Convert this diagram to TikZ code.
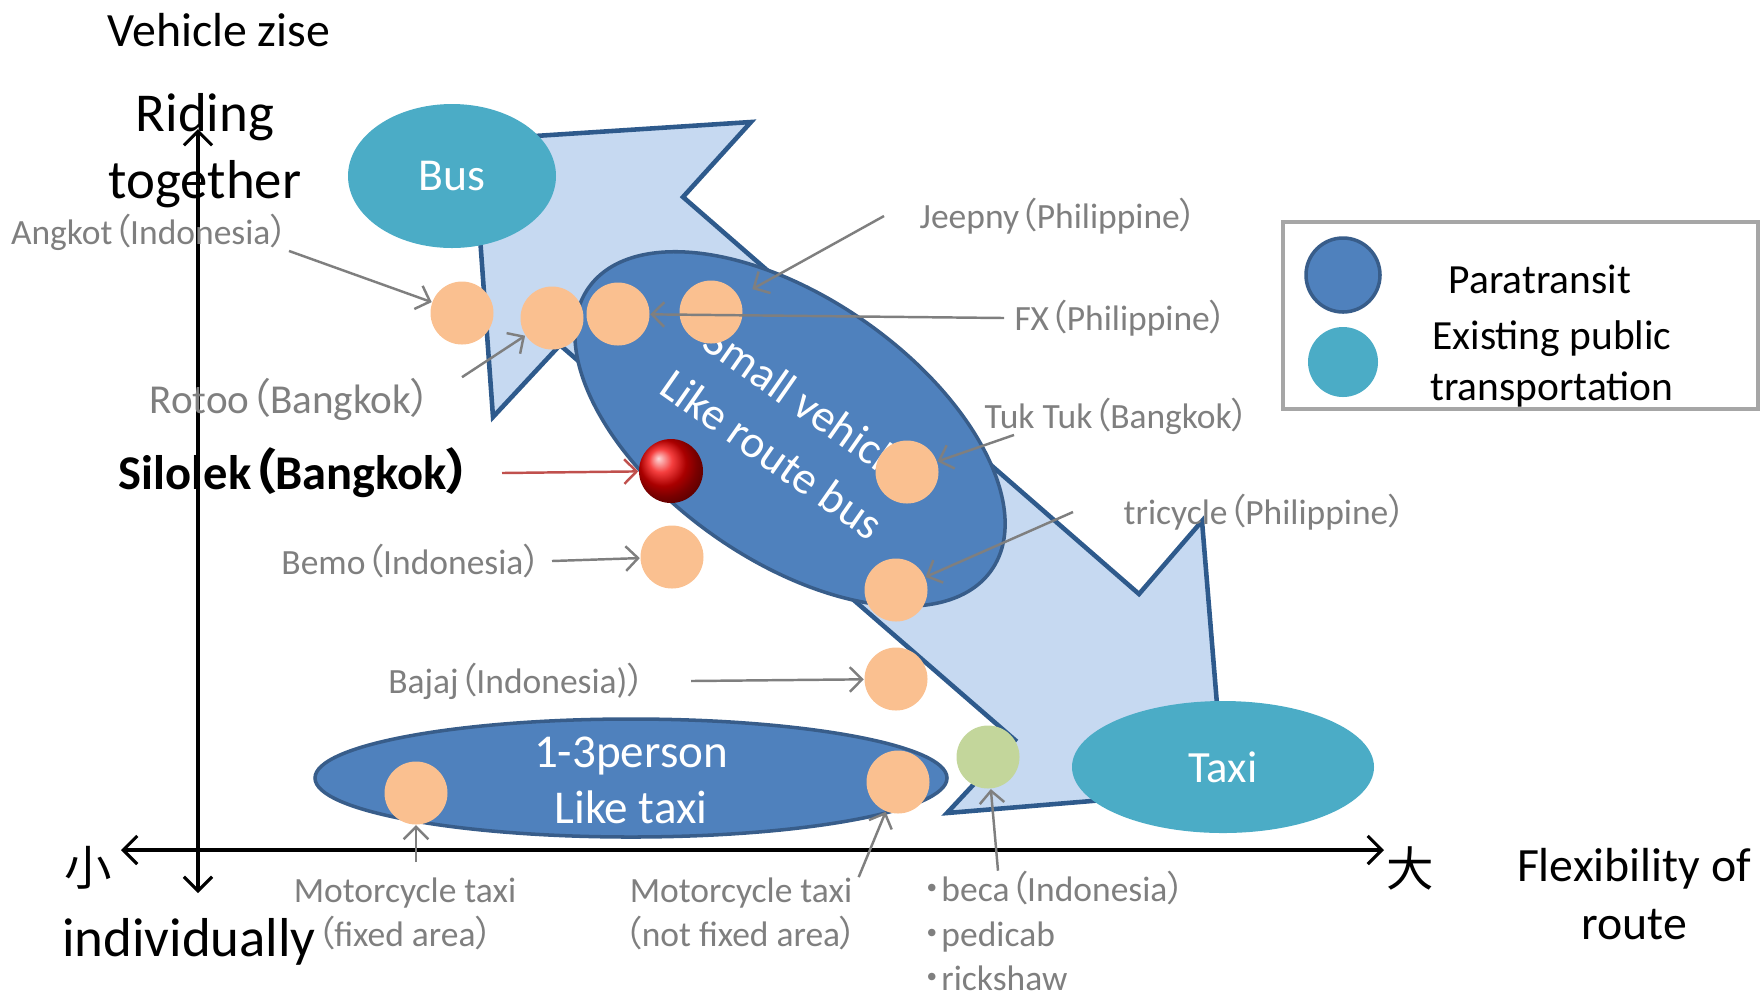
\documentclass[tikz,border=0pt]{standalone}
\usepackage{fontspec}
\setmainfont{Carlito}
\newfontfamily\cjk[RawFeature={+palt}]{Noto Sans CJK JP}
\usetikzlibrary{arrows.meta,calc,shapes.geometric}
\definecolor{arrowfill}{HTML}{C6D9F1}
\definecolor{arrowline}{HTML}{2E5A8C}
\definecolor{parablue}{HTML}{4F81BD}
\definecolor{paraline}{HTML}{385D8A}
\definecolor{busteal}{HTML}{4BACC6}
\definecolor{dotorange}{HTML}{FAC090}
\definecolor{dotgreen}{HTML}{C3D69B}
\definecolor{labelgray}{HTML}{7F7F7F}
\definecolor{pointred}{HTML}{C0504D}
\definecolor{legendgray}{HTML}{A6A6A6}
\newcommand{\lp}{{\cjk （}}
\newcommand{\rp}{{\cjk ）}}
\newcommand{\mdot}{{\cjk ・}}

\begin{document}
\begin{tikzpicture}[
  lbl/.style={text=labelgray,font=\fontsize{10.1}{12.6}\selectfont,inner sep=0pt},
  ptr/.style={labelgray,line width=0.7pt,-{Straight Barb[length=3.5pt,width=7pt]}},
  redptr/.style={pointred,line width=0.7pt,-{Straight Barb[length=3.5pt,width=7pt]}},
  vehdot/.style={circle,fill=dotorange,inner sep=0pt,minimum size=0.63cm},
  axisline/.style={black,line width=0.9pt,{Straight Barb[length=4pt,width=8pt]}-{Straight Barb[length=4pt,width=8pt]}},
  paraoval/.style={ellipse,draw=paraline,fill=parablue,line width=1pt,inner sep=0pt},
  publicoval/.style={ellipse,fill=busteal,text=white,inner sep=0pt}
]
\useasboundingbox (0,0) rectangle (17.61,-9.95);
\draw[arrowline,fill=arrowfill,line width=1.3pt,line join=miter] (4.73,-1.40) -- (7.51,-1.22) -- (6.83,-1.97) -- (11.39,-5.94) -- (12.02,-5.21) -- (12.24,-7.90) -- (9.47,-8.13) -- (10.15,-7.40) -- (5.60,-3.45) -- (4.93,-4.17) -- cycle;
\node[publicoval,minimum width=2.08cm,minimum height=1.44cm,font=\fontsize{13}{15}\selectfont] (bus) at (4.52,-1.76) {Bus};
\node[publicoval,minimum width=3.02cm,minimum height=1.32cm,font=\fontsize{12.7}{15}\selectfont] (taxi) at (12.23,-7.67) {Taxi};
\node[paraoval,minimum width=4.92cm,minimum height=2.62cm,rotate=-35,text=white,align=center,font=\fontsize{13}{17.5}\selectfont] (smallveh) at (7.90,-4.29) {Small vehicle\\Like route bus};
\node[paraoval,minimum width=6.32cm,minimum height=1.18cm] (onethree) at (6.31,-7.78) {};
\node[text=white,align=center,font=\fontsize{13.4}{16}\selectfont] (onethreetxt) at (6.31,-7.80) {1-3person\\Like taxi};
\node[font=\fontsize{13.6}{16}\selectfont] (vsize) at (2.19,-0.30) {Vehicle zise};
\node[font=\fontsize{15.6}{19}\selectfont,align=center] (riding) at (2.05,-1.51) {Riding\\together};
\node[font=\fontsize{15.6}{18}\selectfont] (indiv) at (1.89,-9.42) {individually};
\node[font=\fontsize{13.6}{16.5}\selectfont,align=center] (flex) at (16.34,-8.94) {Flexibility of\\route};
\node[font={\cjk\fontsize{13.5}{15}\selectfont}] (smallend) at (0.88,-8.68) {小};
\node[font={\cjk\fontsize{13.5}{15}\selectfont}] (largeend) at (14.10,-8.68) {大};
\coordinate (ytop) at (1.98,-1.29);
\coordinate (ybot) at (1.98,-8.93);
\coordinate (xleft) at (1.21,-8.50);
\coordinate (xright) at (13.84,-8.50);
\draw[axisline] (ybot) -- (ytop);
\draw[axisline] (xleft) -- (xright);
\node[vehdot] (angkotdot) at (4.62,-3.13) {};
\node[vehdot] (rotoodot) at (5.52,-3.18) {};
\node[vehdot] (fxdot) at (6.18,-3.14) {};
\node[vehdot] (jeepnydot) at (7.11,-3.12) {};
\node[vehdot] (bemodot) at (6.72,-5.57) {};
\node[vehdot] (tuktukdot) at (9.07,-4.72) {};
\node[vehdot] (tricycledot) at (8.96,-5.90) {};
\node[vehdot] (bajajdot) at (8.96,-6.79) {};
\node[vehdot] (mnotfixeddot) at (8.98,-7.82) {};
\node[vehdot] (mfixeddot) at (4.16,-7.93) {};
\node[vehdot,fill=dotgreen] (becadot) at (9.88,-7.57) {};
\node[circle,shading=ball,ball color=red!95!black,minimum size=0.64cm,inner sep=0pt] (silolekdot) at (6.71,-4.71) {};
\node[lbl,anchor=east] (angkot) at (2.89,-2.32) {Angkot\lp Indonesia\rp};
\node[lbl,anchor=east,font=\fontsize{11.7}{14}\selectfont] (rotoo) at (4.32,-3.99) {Rotoo\lp Bangkok\rp};
\node[anchor=east,inner sep=0pt,font=\fontsize{13.8}{16}\selectfont\bfseries] (silolek) at (4.72,-4.73) {Silolek\lp Bangkok\rp};
\node[lbl,anchor=east] (bemo) at (5.42,-5.61) {Bemo\lp Indonesia\rp};
\node[lbl,anchor=east] (bajaj) at (6.46,-6.81) {Bajaj\lp Indonesia)\rp};
\node[lbl,anchor=west] (jeepny) at (9.19,-2.16) {Jeepny\lp Philippine\rp};
\node[lbl,anchor=west] (fx) at (10.14,-3.18) {FX\lp Philippine\rp};
\node[lbl,anchor=west] (tuktuk) at (9.84,-4.16) {Tuk Tuk\lp Bangkok\rp};
\node[lbl,anchor=west] (tricycle) at (11.23,-5.12) {tricycle\lp Philippine\rp};
\node[lbl,align=center] (mfixed) at (4.05,-9.14) {Motorcycle taxi\\\lp fixed area\rp};
\node[lbl,align=center] (mnotfixed) at (7.41,-9.14) {Motorcycle taxi\\\lp not fixed area\rp};
\node[lbl,anchor=west,align=left] (beca) at (9.23,-9.31) {\mdot beca\lp Indonesia\rp\\\mdot pedicab\\\mdot rickshaw};
\draw[ptr] (angkot.south east) -- (angkotdot);
\draw[ptr] ([xshift=3mm]rotoo.north east) -- (rotoodot);
\draw[redptr] ([xshift=3mm]silolek.east) -- (silolekdot);
\draw[ptr] ([xshift=1mm]bemo.east) -- (bemodot);
\draw[ptr] ([xshift=4.5mm]bajaj.east) -- (bajajdot);
\draw[ptr,shorten >=1.5mm] ([xshift=-3.5mm]jeepny.west) -- (jeepnydot);
\draw[ptr] ([xshift=-1mm]fx.west) -- (fxdot);
\draw[ptr] ([xshift=3mm]tuktuk.south west) -- (tuktukdot);
\draw[ptr] ([xshift=-5mm]tricycle.west) -- (tricycledot);
\draw[ptr] ($(mfixeddot |- mfixed.north)+(0,0.15)$) -- (mfixeddot);
\draw[ptr] (mnotfixed.north east) -- (mnotfixeddot);
\draw[ptr] ([xshift=7.5mm]beca.north west) -- (becadot);
\draw[legendgray,line width=1pt] (12.83,-2.22) rectangle (17.58,-4.09);
\node[circle,fill=parablue,draw=paraline,line width=1pt,minimum size=0.74cm,inner sep=0pt] (keypara) at (13.43,-2.75) {};
\node[circle,fill=busteal,minimum size=0.70cm,inner sep=0pt] (keypublic) at (13.43,-3.62) {};
\node[font=\fontsize{11.8}{13.3}\selectfont] (keyparatxt) at (15.40,-2.79) {Paratransit};
\node[font=\fontsize{11.8}{14.3}\selectfont,align=center] (keypublictxt) at (15.52,-3.64) {Existing public\\transportation};
\end{tikzpicture}
\end{document}
